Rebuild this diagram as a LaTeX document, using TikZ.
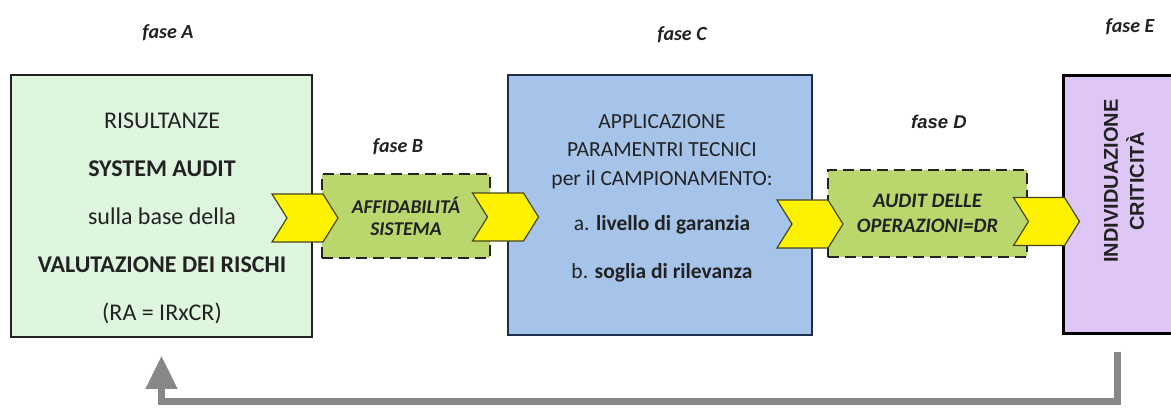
\documentclass[tikz,border=0pt]{standalone}
\usepackage{fontspec}
\setmainfont{Carlito}
\newfontfamily\arialfont{Liberation Sans}
\definecolor{PaleGreen}{RGB}{221, 246, 221}
\definecolor{LimeBox}{RGB}{185, 215, 108}
\definecolor{SkyBlue}{RGB}{166, 196, 234}
\definecolor{Lilac}{RGB}{222, 199, 246}
\definecolor{NavyLine}{RGB}{30, 45, 75}
\definecolor{InkGray}{RGB}{34, 34, 34}
\definecolor{ChevLine}{RGB}{70, 70, 30}
\definecolor{BackGray}{RGB}{135, 135, 135}
\usetikzlibrary{arrows.meta, shapes.symbols}

\begin{document}
\begin{tikzpicture}[x=1pt, y=-1pt,
        phase/.style={rectangle, draw=InkGray, line width=1.5pt, inner sep=0pt},
        dashbox/.style={rectangle, draw=InkGray, line width=2pt, dash pattern=on 11pt off 6pt, fill=LimeBox, inner sep=0pt, align=center, text=InkGray, font={\fontsize{19.5}{22}\selectfont\bfseries\itshape}},
        phaselabel/.style={text=InkGray, font={\fontsize{20}{22}\selectfont\bfseries\itshape}},
        chevron/.style={signal, signal from=west, signal to=east, signal pointer angle=116, fill=yellow, draw=ChevLine, line width=1.2pt, minimum width=66pt, minimum height=48pt, inner sep=0pt},
        feedback/.style={draw=BackGray, line width=7pt, -{Triangle[width=30pt, length=33pt]}}
    ]
        \useasboundingbox (0,0) rectangle (1171,408);
        \clip (0,0) rectangle (1171,408);
        % phase boxes
        \node[phase, fill=PaleGreen, minimum width=301pt, minimum height=262pt] (boxA) at (161.5,206) {};
        \node[dashbox, minimum width=168pt, minimum height=84pt] (boxB) at (406,216) {AFFIDABILITÁ\\SISTEMA};
        \node[phase, draw=NavyLine, fill=SkyBlue, minimum width=304pt, minimum height=260pt] (boxC) at (660,205) {};
        \node[dashbox, minimum width=199pt, minimum height=87pt, font={\fontsize{20.5}{25}\selectfont\bfseries\itshape}] (boxD) at (927.5,213.5) {AUDIT DELLE\\OPERAZIONI=DR};
        \node[phase, draw=black, line width=3pt, fill=Lilac, minimum width=122pt, minimum height=258pt] (boxE) at (1124,204) {};
        % box texts
        \node[align=center, text=InkGray, font={\fontsize{24}{48}\selectfont}] (txtA) at (162,218)
            {RISULTANZE\\\textbf{SYSTEM AUDIT}\\sulla base della\\\textbf{VALUTAZIONE DEI RISCHI}\\(RA = IRxCR)};
        \node[align=center, text=InkGray, font={\fontsize{21.5}{28.5}\selectfont}] (txtC) at (662,198)
            {APPLICAZIONE\\PARAMENTRI TECNICI\\per il CAMPIONAMENTO:\\[16.5pt]a. \textbf{livello di garanzia}\\[19.5pt]b. \textbf{soglia di rilevanza}};
        \node[align=center, rotate=90, text=InkGray, font={\fontsize{20}{26}\selectfont\arialfont\bfseries}] (txtE) at (1124,181)
            {INDIVIDUAZIONE\\CRITICITÀ};
        % phase labels
        \node[phaselabel] (lblA) at (168,33) {fase A};
        \node[phaselabel] (lblB) at (398,147) {fase B};
        \node[phaselabel] (lblC) at (682,35) {fase C};
        \node[phaselabel, font={\fontsize{18.5}{20}\selectfont\arialfont\bfseries\itshape}] (lblD) at (939,122) {fase D};
        \node[phaselabel] (lblE) at (1130,27) {fase E};
        % chevrons
        \node[chevron] (chevAB) at (305,218) {};
        \node[chevron] (chevBC) at (505.5,217) {};
        \node[chevron] (chevCD) at (810,224) {};
        \node[chevron] (chevDE) at (1046.5,221.5) {};
        % loop back
        \draw[feedback] ([xshift=-7pt, yshift=-17pt]boxE.south) -- ++(0,50) -| ([yshift=-18pt]boxA.south);
    \end{tikzpicture}
\end{document}
